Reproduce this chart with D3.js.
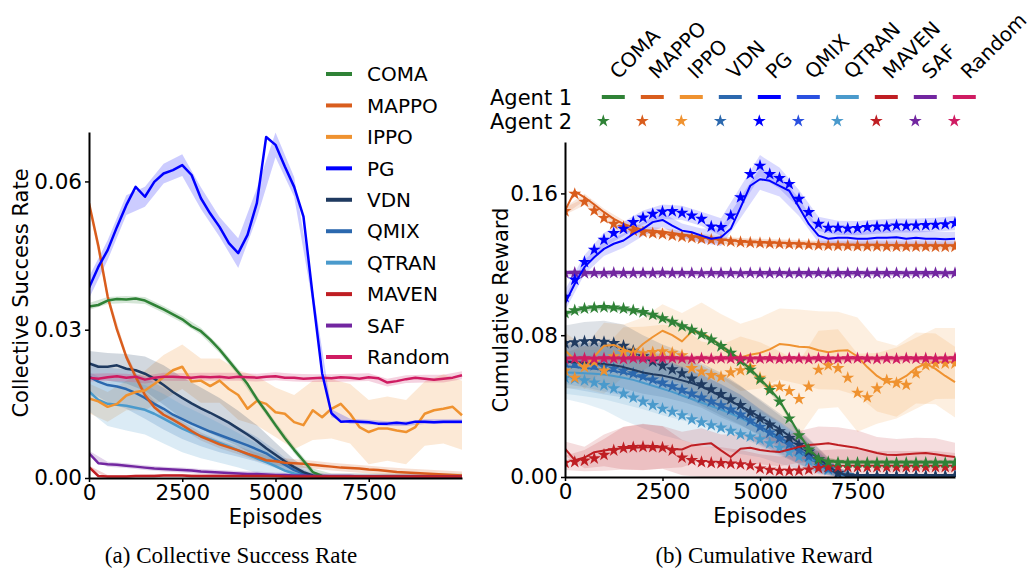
<!DOCTYPE html>
<html>
<head>
<meta charset="utf-8">
<script src="https://d3js.org/d3.v7.min.js"></script>
<style>
  body { margin: 0; background: #fff; }
  text { font-family: "DejaVu Sans", sans-serif; fill: #000; }
  .caption { font-family: "Liberation Serif", serif; font-size: 23px; }
</style>
</head>
<body>
<svg width="1031" height="570"></svg>
<script>
// episodes every 250, bands every 500
const episodes = d3.range(0, 10001, 250);
const bandEpisodes = d3.range(0, 10001, 500);

const methods = ['COMA', 'MAPPO', 'IPPO', 'PG', 'VDN', 'QMIX', 'QTRAN', 'MAVEN', 'SAF', 'Random'];
const colors = {COMA: '#2f8236', MAPPO: '#d95d1d', IPPO: '#ef9230', PG: '#0000ff', VDN: '#1f3a60',
                QMIX: '#2b68ae', QTRAN: '#4a9acc', MAVEN: '#bf1e23', SAF: '#7226a0', Random: '#cf1c62'};
const rightOrder = ['COMA', 'MAPPO', 'IPPO', 'VDN', 'PG', 'QMIX', 'QTRAN', 'MAVEN', 'SAF', 'Random'];
const rightLegendColors = ['#2f8236', '#d95d1d', '#ef9230', '#2b68ae', '#0000ff', '#2a50e0', '#4a9acc', '#bf1e23', '#7226a0', '#cf1c62'];

const csrTicks = [0, 0.03, 0.06];
const rewTicks = [0, 0.08, 0.16];
const epTicks = [0, 2500, 5000, 7500];

// ---- (a) collective success rate ----
const csrCOMA = [0.0347,0.0350,0.0359,0.0362,0.0361,0.0363,0.0359,0.0350,0.0341,0.0331,0.0321,
  0.0307,0.0297,0.0280,0.0260,0.0237,0.0214,0.0190,0.0160,0.0134,0.0107,
  0.0081,0.0057,0.0035,0.0012,0.0004,0.0002,0.0002,0.0002,0.0002,0.0002,
  0.0002,0.0002,0.0002,0.0002,0.0002,0.0002,0.0002,0.0002,0.0002,0.0002];
const csrMAPPO = [0.0556,0.0470,0.0367,0.0300,0.0245,0.0205,0.0168,0.0143,0.0128,0.0118,0.0107,
  0.0095,0.0084,0.0076,0.0068,0.0062,0.0056,0.0049,0.0043,0.0036,0.0034,
  0.0031,0.0030,0.0029,0.0027,0.0025,0.0023,0.0021,0.0020,0.0019,0.0017,
  0.0016,0.0014,0.0012,0.0011,0.0010,0.0009,0.0008,0.0007,0.0006,0.0005];
const csrIPPO = [0.0161,0.0155,0.0144,0.0150,0.0167,0.0174,0.0177,0.0190,0.0204,0.0218,0.0225,
  0.0195,0.0197,0.0186,0.0197,0.0180,0.0168,0.0140,0.0156,0.0150,0.0133,
  0.0130,0.0113,0.0107,0.0137,0.0123,0.0140,0.0150,0.0130,0.0103,0.0093,
  0.0100,0.0100,0.0096,0.0093,0.0103,0.0130,0.0137,0.0140,0.0144,0.0127];
const csrPG = [0.0385,0.0427,0.0461,0.0508,0.0552,0.0589,0.0569,0.0599,0.0616,0.0623,0.0633,
  0.0613,0.0566,0.0535,0.0508,0.0475,0.0455,0.0492,0.0556,0.0690,0.0674,
  0.0630,0.0589,0.0529,0.0367,0.0212,0.0131,0.0114,0.0115,0.0114,0.0113,
  0.0110,0.0110,0.0112,0.0110,0.0114,0.0114,0.0113,0.0114,0.0114,0.0114];
const csrVDN = [0.0232,0.0225,0.0225,0.0228,0.0221,0.0218,0.0211,0.0201,0.0188,0.0174,0.0162,
  0.0151,0.0141,0.0132,0.0122,0.0112,0.0100,0.0088,0.0075,0.0060,0.0047,
  0.0034,0.0022,0.0012,0.0005,0.0002,0.0002,0.0002,0.0002,0.0002,0.0002,
  0.0002,0.0002,0.0002,0.0002,0.0002,0.0002,0.0002,0.0002,0.0002,0.0002];
const csrQMIX = [0.0205,0.0195,0.0188,0.0185,0.0180,0.0172,0.0162,0.0150,0.0140,0.0128,0.0119,
  0.0110,0.0102,0.0094,0.0087,0.0080,0.0073,0.0066,0.0058,0.0050,0.0038,
  0.0027,0.0016,0.0009,0.0004,0.0002,0.0002,0.0002,0.0002,0.0002,0.0002,
  0.0002,0.0002,0.0002,0.0002,0.0002,0.0002,0.0002,0.0002,0.0002,0.0002];
const csrQTRAN = [0.0175,0.0158,0.0150,0.0148,0.0146,0.0142,0.0138,0.0130,0.0120,0.0110,0.0100,
  0.0092,0.0085,0.0078,0.0071,0.0064,0.0056,0.0048,0.0040,0.0032,0.0024,
  0.0015,0.0009,0.0005,0.0003,0.0002,0.0002,0.0002,0.0002,0.0002,0.0002,
  0.0002,0.0002,0.0002,0.0002,0.0002,0.0002,0.0002,0.0002,0.0002,0.0002];
const csrMAVEN = [0.0022,0.0004,0.0003,0.0003,0.0003,0.0004,0.0004,0.0004,0.0005,0.0005,0.0005,
  0.0004,0.0004,0.0004,0.0004,0.0004,0.0004,0.0004,0.0004,0.0004,0.0004,
  0.0003,0.0003,0.0003,0.0003,0.0003,0.0003,0.0003,0.0003,0.0003,0.0003,
  0.0003,0.0003,0.0003,0.0003,0.0003,0.0003,0.0003,0.0003,0.0003,0.0003];
const csrSAF = [0.0050,0.0030,0.0028,0.0027,0.0025,0.0023,0.0021,0.0019,0.0018,0.0017,0.0016,
  0.0015,0.0013,0.0012,0.0011,0.0010,0.0009,0.0008,0.0008,0.0007,0.0006,
  0.0006,0.0005,0.0005,0.0004,0.0004,0.0004,0.0004,0.0004,0.0003,0.0003,
  0.0003,0.0003,0.0003,0.0003,0.0003,0.0003,0.0003,0.0003,0.0003,0.0003];
const csrRandom = [0.0203,0.0201,0.0204,0.0206,0.0203,0.0205,0.0199,0.0203,0.0205,0.0205,0.0204,
  0.0203,0.0205,0.0204,0.0205,0.0203,0.0205,0.0204,0.0203,0.0205,0.0206,
  0.0203,0.0203,0.0201,0.0202,0.0203,0.0202,0.0204,0.0203,0.0201,0.0204,
  0.0202,0.0193,0.0196,0.0200,0.0203,0.0201,0.0199,0.0201,0.0203,0.0208];

// band half widths (every 500 episodes) or a single value
const csrBandCOMA = 0.0007;
const csrBandMAPPO = 0.0008;
const csrBandIPPO = [0.003,0.003,0.003,0.004,0.0045,0.0045,0.0045,0.0045,0.005,0.005,0.005,
  0.0055,0.006,0.006,0.006,0.0065,0.0065,0.0065,0.0065,0.007,0.007];
const csrBandPG = [0.0022,0.002,0.002,0.002,0.002,0.0022,0.0022,0.002,0.003,0.003,0.0025,
  0.002,0.0015,0.0008,0.0005,0.0005,0.0005,0.0005,0.0005,0.0005,0.0005];
const csrBandVDN = [0.0025,0.0028,0.003,0.0035,0.004,0.0042,0.0042,0.004,0.0036,0.0032,0.0025,
  0.0015,0.0008,0.0003,0.0002,0.0002,0.0002,0.0002,0.0002,0.0002,0.0002];
const csrBandQMIX = [0.003,0.0035,0.004,0.0042,0.0042,0.004,0.0038,0.0035,0.003,0.0025,0.0018,
  0.001,0.0005,0.0002,0.0002,0.0002,0.0002,0.0002,0.0002,0.0002,0.0002];
const csrBandQTRAN = [0.004,0.0045,0.005,0.005,0.005,0.0048,0.0045,0.004,0.0035,0.003,0.0022,
  0.0012,0.0005,0.0002,0.0002,0.0002,0.0002,0.0002,0.0002,0.0002,0.0002];
const csrBandMAVEN = 0.0003;
const csrBandSAF = 0.0005;
const csrBandRandom = 0.0008;

// ---- (b) cumulative reward, agent 1 (line) and agent 2 (stars) ----
const rewCOMA1 = [0.0921,0.0938,0.0952,0.0957,0.0957,0.0954,0.0948,0.0938,0.0929,0.0916,0.0897,
  0.0878,0.0854,0.0835,0.0807,0.0779,0.0741,0.0704,0.0657,0.0610,0.0554,
  0.0497,0.0432,0.0338,0.0244,0.0160,0.0105,0.0088,0.0084,0.0082,0.0082,
  0.0082,0.0082,0.0082,0.0082,0.0082,0.0082,0.0082,0.0082,0.0082,0.0082];
const rewCOMA2 = [0.0925,0.0940,0.0950,0.0955,0.0958,0.0956,0.0950,0.0940,0.0930,0.0915,0.0895,
  0.0875,0.0850,0.0830,0.0805,0.0775,0.0738,0.0700,0.0655,0.0605,0.0550,
  0.0490,0.0425,0.0330,0.0235,0.0155,0.0100,0.0085,0.0082,0.0080,0.0080,
  0.0080,0.0080,0.0080,0.0080,0.0080,0.0080,0.0080,0.0080,0.0080,0.0080];
const rewMAPPO1 = [0.1503,0.1612,0.1578,0.1537,0.1494,0.1456,0.1428,0.1410,0.1394,0.1390,0.1385,
  0.1376,0.1368,0.1361,0.1353,0.1344,0.1338,0.1335,0.1329,0.1325,0.1324,
  0.1322,0.1321,0.1319,0.1317,0.1315,0.1313,0.1312,0.1312,0.1311,0.1310,
  0.1310,0.1310,0.1309,0.1308,0.1308,0.1308,0.1308,0.1308,0.1308,0.1308];
const rewMAPPO2 = [0.1500,0.1597,0.1553,0.1503,0.1461,0.1428,0.1410,0.1390,0.1381,0.1375,0.1370,
  0.1362,0.1356,0.1350,0.1344,0.1338,0.1333,0.1329,0.1325,0.1322,0.1320,
  0.1318,0.1316,0.1314,0.1312,0.1310,0.1308,0.1306,0.1305,0.1304,0.1303,
  0.1302,0.1302,0.1301,0.1301,0.1300,0.1300,0.1300,0.1299,0.1299,0.1299];
const rewIPPO1 = [0.0715,0.0660,0.0615,0.0680,0.0740,0.0745,0.0720,0.0700,0.0750,0.0790,0.0825,
  0.0800,0.0765,0.0820,0.0815,0.0780,0.0740,0.0690,0.0675,0.0690,0.0700,
  0.0720,0.0750,0.0745,0.0735,0.0732,0.0715,0.0704,0.0712,0.0715,0.0680,
  0.0620,0.0570,0.0535,0.0540,0.0570,0.0615,0.0640,0.0610,0.0570,0.0535];
const rewIPPO2 = [0.0600,0.0560,0.0620,0.0650,0.0600,0.0680,0.0705,0.0700,0.0698,0.0704,0.0709,
  0.0700,0.0687,0.0614,0.0595,0.0575,0.0565,0.0590,0.0602,0.0620,0.0560,
  0.0505,0.0510,0.0485,0.0440,0.0510,0.0605,0.0630,0.0614,0.0560,0.0475,
  0.0450,0.0500,0.0546,0.0530,0.0520,0.0585,0.0630,0.0640,0.0641,0.0641];
const rewVDN1 = [0.0650,0.0648,0.0645,0.0642,0.0638,0.0630,0.0620,0.0605,0.0590,0.0580,0.0572,
  0.0560,0.0545,0.0530,0.0510,0.0485,0.0455,0.0428,0.0400,0.0370,0.0338,
  0.0305,0.0270,0.0232,0.0192,0.0150,0.0105,0.0062,0.0025,0.0008,0.0004,
  0.0004,0.0004,0.0004,0.0004,0.0004,0.0004,0.0004,0.0004,0.0004,0.0004];
const rewVDN2 = [0.0755,0.0760,0.0765,0.0766,0.0762,0.0755,0.0740,0.0712,0.0680,0.0652,0.0628,
  0.0607,0.0585,0.0555,0.0522,0.0495,0.0468,0.0438,0.0405,0.0365,0.0330,
  0.0295,0.0258,0.0220,0.0182,0.0143,0.0100,0.0058,0.0022,0.0008,0.0005,
  0.0005,0.0005,0.0005,0.0005,0.0005,0.0005,0.0005,0.0005,0.0005,0.0005];
const rewPG1 = [0.0978,0.1090,0.1184,0.1240,0.1287,0.1316,0.1334,0.1372,0.1400,0.1438,0.1450,
  0.1418,0.1390,0.1381,0.1362,0.1344,0.1353,0.1400,0.1520,0.1643,0.1680,
  0.1671,0.1643,0.1615,0.1522,0.1428,0.1362,0.1344,0.1350,0.1350,0.1344,
  0.1344,0.1350,0.1350,0.1353,0.1344,0.1350,0.1344,0.1344,0.1342,0.1344];
const rewPG2 = [0.1016,0.1113,0.1213,0.1282,0.1338,0.1376,0.1400,0.1438,0.1463,0.1484,0.1497,
  0.1500,0.1490,0.1475,0.1456,0.1413,0.1410,0.1475,0.1578,0.1709,0.1756,
  0.1709,0.1686,0.1653,0.1569,0.1494,0.1428,0.1406,0.1406,0.1402,0.1404,
  0.1410,0.1413,0.1413,0.1419,0.1417,0.1419,0.1421,0.1423,0.1426,0.1432];
const rewQMIX1 = [0.0625,0.0620,0.0615,0.0610,0.0605,0.0598,0.0588,0.0575,0.0560,0.0542,0.0525,
  0.0508,0.0488,0.0465,0.0445,0.0425,0.0402,0.0380,0.0355,0.0320,0.0285,
  0.0255,0.0225,0.0190,0.0155,0.0120,0.0085,0.0050,0.0020,0.0006,0.0003,
  0.0003,0.0003,0.0003,0.0003,0.0003,0.0003,0.0003,0.0003,0.0003,0.0003];
const rewQMIX2 = [0.0645,0.0640,0.0636,0.0630,0.0622,0.0612,0.0600,0.0585,0.0568,0.0550,0.0532,
  0.0512,0.0492,0.0470,0.0448,0.0426,0.0404,0.0380,0.0352,0.0318,0.0282,
  0.0250,0.0218,0.0184,0.0150,0.0115,0.0080,0.0046,0.0018,0.0006,0.0003,
  0.0003,0.0003,0.0003,0.0003,0.0003,0.0003,0.0003,0.0003,0.0003,0.0003];
const rewQTRAN1 = [0.0590,0.0588,0.0585,0.0582,0.0578,0.0570,0.0560,0.0548,0.0532,0.0515,0.0498,
  0.0480,0.0460,0.0440,0.0420,0.0400,0.0380,0.0358,0.0334,0.0306,0.0275,
  0.0245,0.0212,0.0178,0.0145,0.0110,0.0076,0.0043,0.0016,0.0005,0.0003,
  0.0003,0.0003,0.0003,0.0003,0.0003,0.0003,0.0003,0.0003,0.0003,0.0003];
const rewQTRAN2 = [0.0560,0.0555,0.0545,0.0533,0.0518,0.0500,0.0470,0.0448,0.0425,0.0405,0.0385,
  0.0368,0.0348,0.0325,0.0308,0.0292,0.0278,0.0260,0.0240,0.0228,0.0212,
  0.0190,0.0165,0.0140,0.0115,0.0090,0.0065,0.0040,0.0020,0.0010,0.0005,
  0.0005,0.0005,0.0005,0.0005,0.0005,0.0005,0.0005,0.0005,0.0005,0.0005];
const rewMAVEN1 = [0.0160,0.0095,0.0110,0.0140,0.0150,0.0158,0.0162,0.0165,0.0168,0.0168,0.0168,
  0.0158,0.0155,0.0178,0.0185,0.0190,0.0150,0.0113,0.0160,0.0165,0.0152,
  0.0145,0.0141,0.0155,0.0170,0.0180,0.0185,0.0191,0.0180,0.0172,0.0163,
  0.0150,0.0135,0.0125,0.0124,0.0128,0.0132,0.0135,0.0128,0.0120,0.0113];
const rewMAVEN2 = [0.0080,0.0085,0.0092,0.0105,0.0125,0.0150,0.0163,0.0168,0.0170,0.0169,0.0166,
  0.0150,0.0110,0.0095,0.0084,0.0080,0.0078,0.0075,0.0072,0.0066,0.0048,
  0.0040,0.0035,0.0034,0.0036,0.0042,0.0050,0.0056,0.0056,0.0056,0.0056,
  0.0056,0.0056,0.0056,0.0056,0.0056,0.0056,0.0056,0.0056,0.0056,0.0056];
const rewSAF1 = [0.1152,0.1150,0.1151,0.1150,0.1149,0.1150,0.1151,0.1152,0.1150,0.1149,0.1150,
  0.1151,0.1150,0.1149,0.1150,0.1150,0.1148,0.1149,0.1150,0.1150,0.1149,
  0.1148,0.1149,0.1150,0.1149,0.1148,0.1149,0.1150,0.1149,0.1148,0.1149,
  0.1150,0.1149,0.1148,0.1149,0.1150,0.1149,0.1148,0.1149,0.1150,0.1150];
const rewSAF2 = [0.1150,0.1152,0.1150,0.1151,0.1150,0.1152,0.1150,0.1150,0.1151,0.1150,0.1152,
  0.1150,0.1151,0.1150,0.1149,0.1151,0.1150,0.1150,0.1149,0.1151,0.1150,
  0.1150,0.1151,0.1149,0.1150,0.1150,0.1151,0.1149,0.1150,0.1150,0.1151,
  0.1149,0.1150,0.1150,0.1151,0.1149,0.1150,0.1150,0.1151,0.1149,0.1150];
const rewRandom1 = [0.0668,0.0670,0.0667,0.0669,0.0668,0.0670,0.0668,0.0667,0.0669,0.0668,0.0670,
  0.0668,0.0667,0.0669,0.0670,0.0668,0.0667,0.0669,0.0668,0.0670,0.0668,
  0.0667,0.0669,0.0668,0.0670,0.0668,0.0667,0.0669,0.0668,0.0670,0.0668,
  0.0667,0.0669,0.0668,0.0670,0.0668,0.0667,0.0669,0.0668,0.0670,0.0668];
const rewRandom2 = [0.0666,0.0668,0.0670,0.0667,0.0669,0.0668,0.0666,0.0670,0.0668,0.0667,0.0669,
  0.0670,0.0668,0.0666,0.0669,0.0667,0.0670,0.0668,0.0669,0.0667,0.0668,
  0.0670,0.0667,0.0669,0.0668,0.0666,0.0670,0.0668,0.0667,0.0669,0.0670,
  0.0668,0.0666,0.0669,0.0667,0.0670,0.0668,0.0669,0.0667,0.0668,0.0670];

const rewBandCOMA = 0.0015;
const rewBandMAPPO = 0.002;
const rewBandIPPO = [0.010,0.012,0.013,0.014,0.015,0.015,0.016,0.017,0.018,0.019,0.020,
  0.020,0.021,0.022,0.022,0.022,0.020,0.020,0.020,0.020,0.020];
const rewBandVDN = [0.010,0.011,0.012,0.012,0.012,0.012,0.012,0.012,0.012,0.011,0.010,
  0.009,0.008,0.006,0.003,0.001,0.0005,0.0005,0.0005,0.0005,0.0005];
const rewBandPG = [0.004,0.004,0.004,0.004,0.004,0.004,0.004,0.004,0.005,0.006,0.006,
  0.006,0.005,0.004,0.004,0.004,0.004,0.004,0.004,0.004,0.004];
const rewBandQMIX = [0.012,0.013,0.014,0.014,0.014,0.014,0.013,0.013,0.012,0.011,0.010,
  0.009,0.008,0.006,0.003,0.001,0.0005,0.0005,0.0005,0.0005,0.0005];
const rewBandQTRAN = [0.012,0.013,0.014,0.015,0.015,0.015,0.014,0.013,0.012,0.011,0.010,
  0.009,0.007,0.005,0.003,0.001,0.0005,0.0005,0.0005,0.0005,0.0005];
const rewBandMAVEN = [0.004,0.006,0.009,0.012,0.013,0.012,0.010,0.009,0.009,0.008,0.008,
  0.008,0.009,0.010,0.010,0.010,0.009,0.009,0.009,0.009,0.008];
const rewBandSAF = 0.0015;
const rewBandRandom = 0.0015;

const csrSeries = {COMA: [csrCOMA, csrBandCOMA], MAPPO: [csrMAPPO, csrBandMAPPO], IPPO: [csrIPPO, csrBandIPPO],
  PG: [csrPG, csrBandPG], VDN: [csrVDN, csrBandVDN], QMIX: [csrQMIX, csrBandQMIX], QTRAN: [csrQTRAN, csrBandQTRAN],
  MAVEN: [csrMAVEN, csrBandMAVEN], SAF: [csrSAF, csrBandSAF], Random: [csrRandom, csrBandRandom]};
const rewSeries = {COMA: [rewCOMA1, rewCOMA2, rewBandCOMA], MAPPO: [rewMAPPO1, rewMAPPO2, rewBandMAPPO],
  IPPO: [rewIPPO1, rewIPPO2, rewBandIPPO], PG: [rewPG1, rewPG2, rewBandPG], VDN: [rewVDN1, rewVDN2, rewBandVDN],
  QMIX: [rewQMIX1, rewQMIX2, rewBandQMIX], QTRAN: [rewQTRAN1, rewQTRAN2, rewBandQTRAN],
  MAVEN: [rewMAVEN1, rewMAVEN2, rewBandMAVEN], SAF: [rewSAF1, rewSAF2, rewBandSAF], Random: [rewRandom1, rewRandom2, rewBandRandom]};

const svg = d3.select('svg');
const starSym = d3.symbol().type(d3.symbolStar).size(52);

function halfWidth(spread, i) { return Array.isArray(spread) ? spread[i] : spread; }

function drawBand(g, x, y, mean, spread, color, opacity) {
  const area = d3.area()
    .x(d => x(d))
    .y0((d, i) => y(Math.max(0, mean[2 * i] - halfWidth(spread, i))))
    .y1((d, i) => y(mean[2 * i] + halfWidth(spread, i)));
  g.append('path').attr('d', area(bandEpisodes))
    .attr('fill', color).attr('fill-opacity', opacity).attr('stroke', 'none');
}

function drawLine(g, x, y, values, color, width) {
  const line = d3.line().x((d, i) => x(episodes[i])).y(d => y(d));
  g.append('path').attr('d', line(values))
    .attr('fill', 'none').attr('stroke', color).attr('stroke-width', width)
    .attr('stroke-linejoin', 'round');
}

function drawAxes(x, y, yTicks, fmt, yLabel, labelX, labelY, epLabelY) {
  const ax = svg.append('g').attr('transform', `translate(0,${y.range()[0]})`)
    .call(d3.axisBottom(x).tickValues(epTicks).tickFormat(d3.format('d')).tickSize(4).tickPadding(3).tickSizeOuter(0));
  const ay = svg.append('g').attr('transform', `translate(${x.range()[0]},0)`)
    .call(d3.axisLeft(y).tickValues(yTicks).tickFormat(d3.format(fmt)).tickSize(4).tickPadding(3).tickSizeOuter(0));
  [ax, ay].forEach(a => {
    a.select('.domain').attr('stroke', '#000').attr('stroke-width', 2);
    a.selectAll('.tick line').attr('stroke', '#000').attr('stroke-width', 1.5);
    a.selectAll('.tick text').style('font-family', '"DejaVu Sans", sans-serif').style('font-size', '21.5px').attr('fill', '#000');
  });
  svg.append('text').attr('transform', `translate(${labelX},${labelY}) rotate(-90)`)
    .attr('text-anchor', 'middle').style('font-size', '21px').text(yLabel);
  svg.append('text').attr('x', d3.mean(x.range())).attr('y', epLabelY)
    .attr('text-anchor', 'middle').style('font-size', '21px').text('Episodes');
}

// ---------- panel (a) ----------
const xA = d3.scaleLinear().domain([0, 10000]).range([89, 462]);
const yA = d3.scaleLinear().domain([0, 0.07]).range([478, 132]);

svg.append('clipPath').attr('id', 'clipA').append('rect')
  .attr('x', 89).attr('y', 100).attr('width', 374).attr('height', 378);
const gA = svg.append('g').attr('clip-path', 'url(#clipA)');
methods.forEach(m => drawBand(gA, xA, yA, csrSeries[m][0], csrSeries[m][1], colors[m], 0.2));
['QTRAN', 'QMIX', 'VDN', 'MAPPO', 'IPPO', 'COMA', 'SAF', 'MAVEN', 'Random', 'PG']
  .forEach(m => drawLine(gA, xA, yA, csrSeries[m][0], colors[m], 2.5));

drawAxes(xA, yA, csrTicks, '.2f', 'Collective Success Rate', 28, 293, 524);

// legend (a)
const legA = d3.scalePoint().domain(methods).range([74, 357]);
methods.forEach(m => {
  svg.append('line').attr('x1', 326).attr('x2', 352).attr('y1', legA(m)).attr('y2', legA(m))
    .attr('stroke', colors[m]).attr('stroke-width', 4);
  svg.append('text').attr('x', 367).attr('y', legA(m)).attr('dy', '0.36em')
    .style('font-size', '20px').text(m);
});

// ---------- panel (b) ----------
const xB = d3.scaleLinear().domain([0, 10000]).range([565, 955]);
const yB = d3.scaleLinear().domain([0, 0.189]).range([477, 142]);

svg.append('clipPath').attr('id', 'clipB').append('rect')
  .attr('x', 565).attr('y', 130).attr('width', 391).attr('height', 347);
const gB = svg.append('g').attr('clip-path', 'url(#clipB)');
rightOrder.forEach(m => {
  const s = rewSeries[m];
  drawBand(gB, xB, yB, s[0], s[2], colors[m], 0.15);
  drawBand(gB, xB, yB, s[1], s[2], colors[m], 0.15);
});
['QTRAN', 'QMIX', 'VDN', 'IPPO', 'MAVEN', 'COMA', 'SAF', 'MAPPO', 'Random', 'PG'].forEach(m => {
  const s = rewSeries[m];
  drawLine(gB, xB, yB, s[0], colors[m], 2);
  gB.append('g').selectAll('path').data(s[1]).enter().append('path')
    .attr('d', starSym)
    .attr('transform', (d, i) => `translate(${xB(episodes[i])},${yB(d)})`)
    .attr('fill', colors[m]);
});

drawAxes(xB, yB, rewTicks, '.2f', 'Cumulative Reward', 508, 310, 523);

// legend (b)
const legB = d3.scalePoint().domain(rightOrder).range([613.3, 964.3]);
svg.append('text').attr('x', 490).attr('y', 97).attr('dy', '0.36em').style('font-size', '21px').text('Agent 1');
svg.append('text').attr('x', 490).attr('y', 121).attr('dy', '0.36em').style('font-size', '21px').text('Agent 2');
rightOrder.forEach((m, i) => {
  const cx = legB(m);
  svg.append('line').attr('x1', cx - 11.5).attr('x2', cx + 11.5).attr('y1', 97).attr('y2', 97)
    .attr('stroke', rightLegendColors[i]).attr('stroke-width', 4);
  svg.append('path').attr('d', starSym).attr('transform', `translate(${cx - 10},121)`)
    .attr('fill', rightLegendColors[i]);
  svg.append('text').attr('transform', `translate(${cx + 5},80) rotate(-45)`)
    .style('font-size', '20px').text(m);
});

// captions
svg.append('text').attr('class', 'caption').attr('x', 231).attr('y', 563)
  .attr('text-anchor', 'middle').text('(a) Collective Success Rate');
svg.append('text').attr('class', 'caption').attr('x', 764).attr('y', 563)
  .attr('text-anchor', 'middle').text('(b) Cumulative Reward');
</script>
</body>
</html>
